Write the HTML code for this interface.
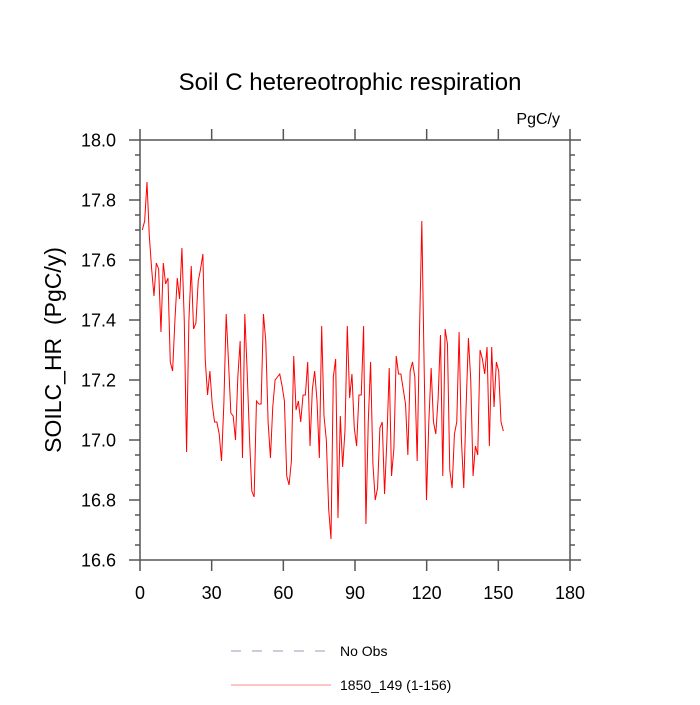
<!DOCTYPE html>
<html><head><meta charset="utf-8"><style>
body{margin:0;background:#fff}
svg text{font-family:"Liberation Sans",sans-serif;fill:#000}
</style></head><body>
<svg id="chart" width="700" height="700" xmlns="http://www.w3.org/2000/svg">
<text x="350" y="90" font-size="24" text-anchor="middle">Soil C hetereotrophic respiration</text>
<text x="560" y="124" font-size="16" text-anchor="end">PgC/y</text>
<text transform="translate(61,350) rotate(-90)" font-size="23" text-anchor="middle">SOILC_HR &#160;(PgC/y)</text>
<g id="axes"></g>
<polyline id="series" fill="none" stroke="#ff0000" stroke-width="1"/>
<g>
<line x1="231" y1="651" x2="326" y2="651" stroke="#9999bb" stroke-dasharray="10,11"/>
<text x="340" y="656" font-size="14">No Obs</text>
<line x1="231" y1="685" x2="331" y2="685" stroke="#ff8888"/>
<text x="340" y="690" font-size="14">1850_149 (1-156)</text>
</g>
</svg>
<script>
const xTicks=[0,30,60,90,120,150,180];
const yTicks=[16.6,16.8,17.0,17.2,17.4,17.6,18.0,17.8];
const values=[17.70,17.73,17.86,17.68,17.57,17.48,17.59,17.57,17.36,17.59,17.52,17.54,17.26,17.23,17.40,17.54,17.47,17.64,17.40,16.96,17.40,17.58,17.37,17.39,17.53,17.57,17.62,17.27,17.15,17.23,17.12,17.06,17.06,17.02,16.93,17.12,17.42,17.26,17.09,17.08,17.00,17.21,17.33,16.94,17.42,17.23,17.01,16.83,16.81,17.13,17.12,17.12,17.42,17.33,17.06,16.94,17.11,17.20,
17.21,17.22,17.18,17.13,16.88,16.85,16.93,17.28,17.10,17.13,17.06,17.15,17.15,17.26,16.98,17.17,17.23,17.13,16.94,17.38,17.08,17.00,16.77,16.67,17.21,17.27,16.74,17.08,16.91,17.03,17.38,17.14,17.22,17.04,16.98,17.15,17.15,17.38,16.72,17.06,17.26,16.92,16.80,16.84,17.04,17.06,16.82,17.00,17.24,16.88,16.97,17.28,17.22,17.22,17.17,17.12,16.95,17.23,17.26,17.21,
16.93,17.36,17.73,17.24,16.80,17.06,17.24,17.06,17.02,17.14,17.35,16.88,17.37,17.32,16.90,16.84,17.02,17.06,17.36,17.00,16.84,17.11,17.34,17.20,16.88,16.98,16.95,17.30,17.27,17.22,17.31,16.98,17.31,17.11,17.26,17.23,17.06,17.03];
const timeStep=0.975;
const X0=140,X1=570,Y0=560,Y1=140;
const xs=v=>X0+(v-0)/(180-0)*(X1-X0);
const ys=v=>Y0-(v-16.6)/(18-16.6)*(Y0-Y1);
const NS="http://www.w3.org/2000/svg";
const ax=document.getElementById('axes');
function ln(x1,y1,x2,y2,name){const l=document.createElementNS(NS,'line');l.setAttribute('x1',x1);l.setAttribute('y1',y1);l.setAttribute('x2',x2);l.setAttribute('y2',y2);l.setAttribute('stroke','#555');l.setAttribute('stroke-width','1.5');


ax.appendChild(l);}
function tx(x,y,s,anchor,name){const t=document.createElementNS(NS,'text');t.setAttribute('x',x);t.setAttribute('y',y);t.setAttribute('font-size','18');t.setAttribute('text-anchor',anchor);t.textContent=s;


ax.appendChild(t);}
const r=document.createElementNS(NS,'rect');r.setAttribute('x',X0);r.setAttribute('y',Y1);r.setAttribute('width',X1-X0);r.setAttribute('height',Y0-Y1);r.setAttribute('fill','none');r.setAttribute('stroke','#555');r.setAttribute('stroke-width','1.5');


ax.appendChild(r);
xTicks.forEach(v=>{const x=xs(v);ln(x,Y0,x,Y0+11,'x-tick');ln(x,Y1,x,Y1-11,'x-tick-top');tx(x,Y0+39,String(v),'middle','x-tick-label');});
for(let v=16.6;v<=18.0001;v+=0.05){const y=ys(v);const major=Math.abs(Math.round(v*5)-v*5)<1e-6;const L=major?11:5;ln(X0-L,y,X0,y,'y-tick');ln(X1,y,X1+L,y,'y-tick-right');}
yTicks.forEach(v=>{tx(X0-24,ys(v)+6.5,v.toFixed(1),'end','y-tick-label');});
const pts=values.map((v,i)=>xs((i+1)*timeStep)+','+ys(v)).join(' ');
document.getElementById('series').setAttribute('points',pts);
</script>
</body></html>
